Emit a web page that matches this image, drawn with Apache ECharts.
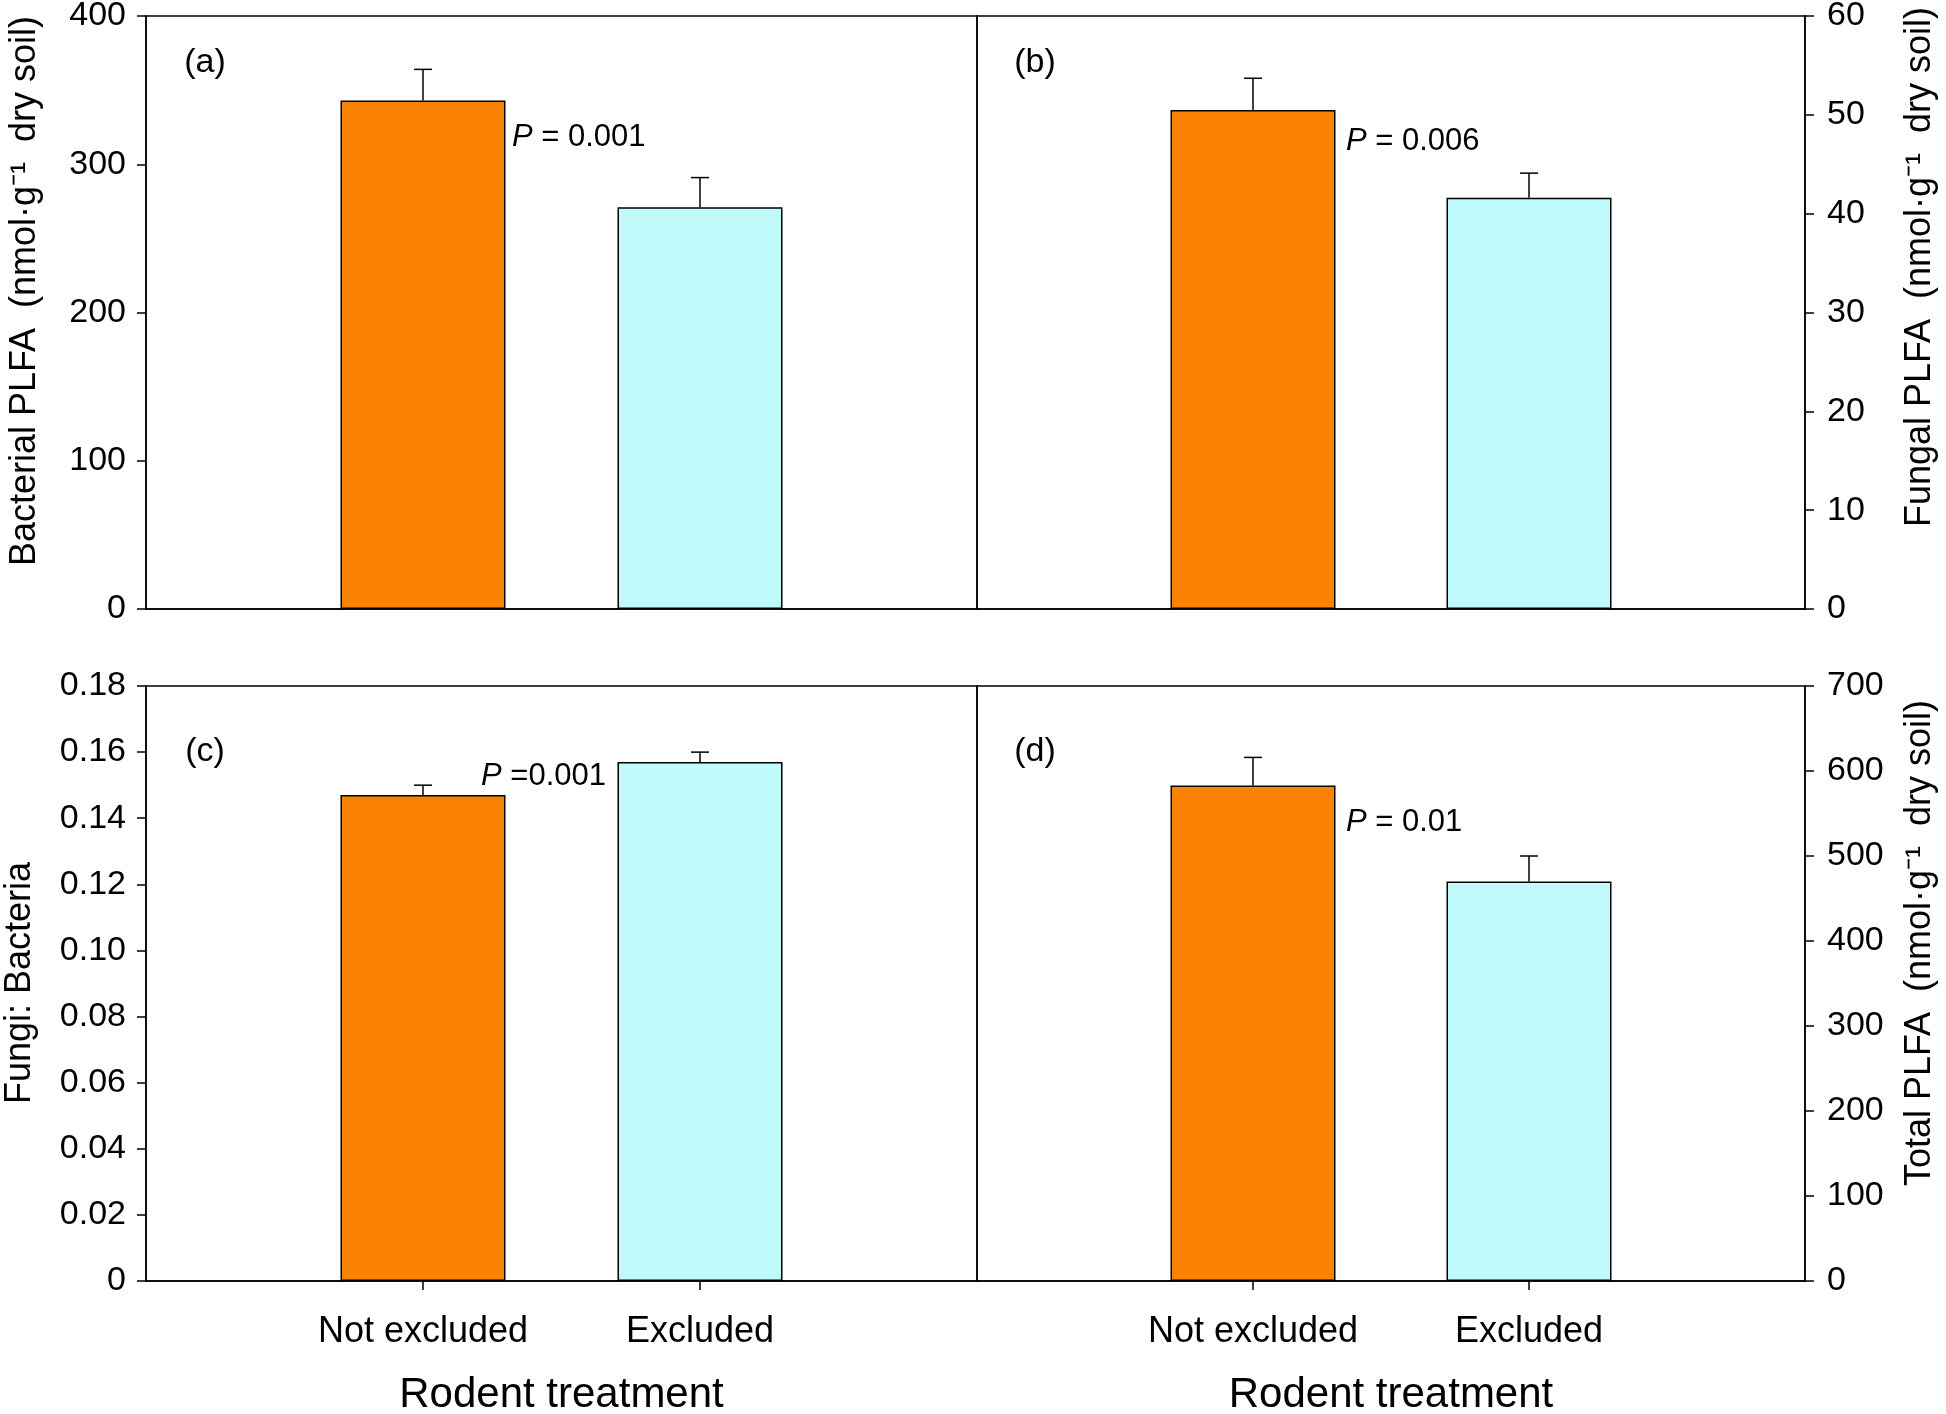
<!DOCTYPE html>
<html>
<head>
<meta charset="utf-8">
<script src="https://cdn.jsdelivr.net/npm/echarts@6/dist/echarts.min.js"></script>
<style>html,body{margin:0;padding:0;background:#fff;}#c{width:1946px;height:1414px;}</style>
</head>
<body>
<div id="c"></div>
<script>
// ---------- data ----------
const categories = ['Not excluded', 'Excluded'];
const barColors = ['#F98300', '#C0FAFA'];

const bacterial = [343, 271];
const bacterialErr = [21, 20];
const fungal = [50.5, 41.6];
const fungalErr = [3.2, 2.5];
const ratio = [0.147, 0.157];
const ratioErr = [0.003, 0.003];
const total = [583, 470];
const totalErr = [33, 30];

const bacterialTicks = [0, 100, 200, 300, 400];
const fungalTicks = [0, 10, 20, 30, 40, 50, 60];
const ratioTicks = [0, 0.02, 0.04, 0.06, 0.08, 0.10, 0.12, 0.14, 0.16, 0.18];
const totalTicks = [0, 100, 200, 300, 400, 500, 600, 700];

const panelLetters = ['(a)', '(b)', '(c)', '(d)'];
const pTexts = ['= 0.001', '= 0.006', '=0.001', '= 0.01'];
const xTitle = 'Rodent treatment';
const yTitles = [
  'Bacterial PLFA  (nmol·g⁻¹  dry soil)',
  'Fungal PLFA  (nmol·g⁻¹  dry soil)',
  'Fungi: Bacteria',
  'Total PLFA  (nmol·g⁻¹  dry soil)'
];

// ---------- layout ----------
const TICK_FONT = "'Liberation Sans Narrow', 'Liberation Sans', Arial, sans-serif";
const FONT = "'Liberation Sans', Arial, sans-serif";
const axisCats = [''].concat(categories, ['']);

const grids = [
  {left: 146, top: 16, width: 831, height: 593},
  {left: 977, top: 16, width: 828, height: 593},
  {left: 146, top: 686, width: 831, height: 595},
  {left: 977, top: 686, width: 828, height: 595}
].map(g => Object.assign({show: true, borderColor: '#000', borderWidth: 1.5, backgroundColor: 'transparent',
  containLabel: false, outerBoundsMode: 'none'}, g));

const panels = [
  {vals: bacterial, errs: bacterialErr, ticks: bacterialTicks, pos: 'left', fmt: v => String(v)},
  {vals: fungal, errs: fungalErr, ticks: fungalTicks, pos: 'right', fmt: v => String(v)},
  {vals: ratio, errs: ratioErr, ticks: ratioTicks, pos: 'left', fmt: v => v === 0 ? '0' : v.toFixed(2)},
  {vals: total, errs: totalErr, ticks: totalTicks, pos: 'right', fmt: v => String(v)}
];

const showMid = (idx) => idx === 1 || idx === 2;

const xAxes = panels.map((p, i) => {
  const bottom = i >= 2;
  return {
    type: 'category', gridIndex: i, data: axisCats, boundaryGap: false,
    axisLine: {show: true, lineStyle: {color: '#000', width: 1.5}},
    axisTick: {show: bottom, interval: (idx) => showMid(idx), length: 9, lineStyle: {color: '#000', width: 1.5}},
    axisLabel: {show: bottom, interval: (idx) => showMid(idx), fontSize: 36, color: '#000', fontFamily: FONT, margin: 33},
    splitLine: {show: false},
    name: bottom ? xTitle : '',
    nameLocation: 'middle', nameGap: 93,
    nameTextStyle: {fontSize: 42, color: '#000', fontFamily: FONT}
  };
});

const yAxes = panels.map((p, i) => {
  const t = p.ticks;
  return {
    type: 'value', gridIndex: i, position: p.pos,
    min: t[0], max: t[t.length - 1], interval: t[1] - t[0],
    axisLine: {show: true, lineStyle: {color: '#000', width: 1.5}},
    axisTick: {show: true, length: 9, lineStyle: {color: '#000', width: 1.5}},
    axisLabel: {fontSize: 34, color: '#000', fontFamily: TICK_FONT, margin: p.pos === 'left' ? 20 : 22, formatter: p.fmt},
    splitLine: {show: false}
  };
});

const series = [];
panels.forEach((p, i) => {
  series.push({
    type: 'bar', xAxisIndex: i, yAxisIndex: i, barWidth: 165, z: 2,
    itemStyle: {borderColor: '#000', borderWidth: 1.5},
    data: ['-'].concat(p.vals.map((v, k) => ({value: v, itemStyle: {color: barColors[k]}})), ['-'])
  });
  series.push({
    type: 'custom', xAxisIndex: i, yAxisIndex: i, z: 3,
    data: p.vals.map((v, k) => [k + 1, v, p.errs[k]]),
    renderItem: function (params, api) {
      const x = api.value(0), y = api.value(1), e = api.value(2);
      const p0 = api.coord([x, y]);
      const p1 = api.coord([x, y + e]);
      const cap = 9;
      const st = {stroke: '#000', lineWidth: 1.5};
      return {type: 'group', children: [
        {type: 'line', shape: {x1: p0[0], y1: p0[1], x2: p1[0], y2: p1[1]}, style: st},
        {type: 'line', shape: {x1: p1[0] - cap, y1: p1[1], x2: p1[0] + cap, y2: p1[1]}, style: st}
      ]};
    }
  });
});

// ---------- annotations ----------
const letterPos = [[205, 63], [1035, 63], [205, 752], [1035, 752]];
const pPos = [[512, 137], [1346, 141], [481, 776], [1346, 822]];
const titlePos = [[25, 291], [1920, 267], [20, 983], [1920, 943]];

const graphic = [];
panelLetters.forEach((t, i) => graphic.push({
  type: 'text', x: letterPos[i][0], y: letterPos[i][1], z: 10,
  style: {text: t, fontSize: 34, fontFamily: TICK_FONT, fill: '#000', align: 'center', verticalAlign: 'middle'}
}));
pTexts.forEach((t, i) => graphic.push({
  type: 'text', x: pPos[i][0], y: pPos[i][1], z: 10,
  style: {text: '{i|P} ' + t, fontSize: 31, fontFamily: FONT, fill: '#000', align: 'left', verticalAlign: 'middle',
    rich: {i: {fontStyle: 'italic', fontSize: 31, fontFamily: FONT, fill: '#000'}}}
}));
yTitles.forEach((t, i) => graphic.push({
  type: 'text', x: titlePos[i][0], y: titlePos[i][1], rotation: Math.PI / 2, z: 10,
  style: {text: t, fontSize: 36, fontFamily: FONT, fill: '#000', align: 'center', verticalAlign: 'middle'}
}));

const chart = echarts.init(document.getElementById('c'), null, {renderer: 'canvas'});
chart.setOption({
  backgroundColor: '#fff',
  animation: false,
  grid: grids,
  xAxis: xAxes,
  yAxis: yAxes,
  series: series,
  graphic: graphic
});
</script>
</body>
</html>
